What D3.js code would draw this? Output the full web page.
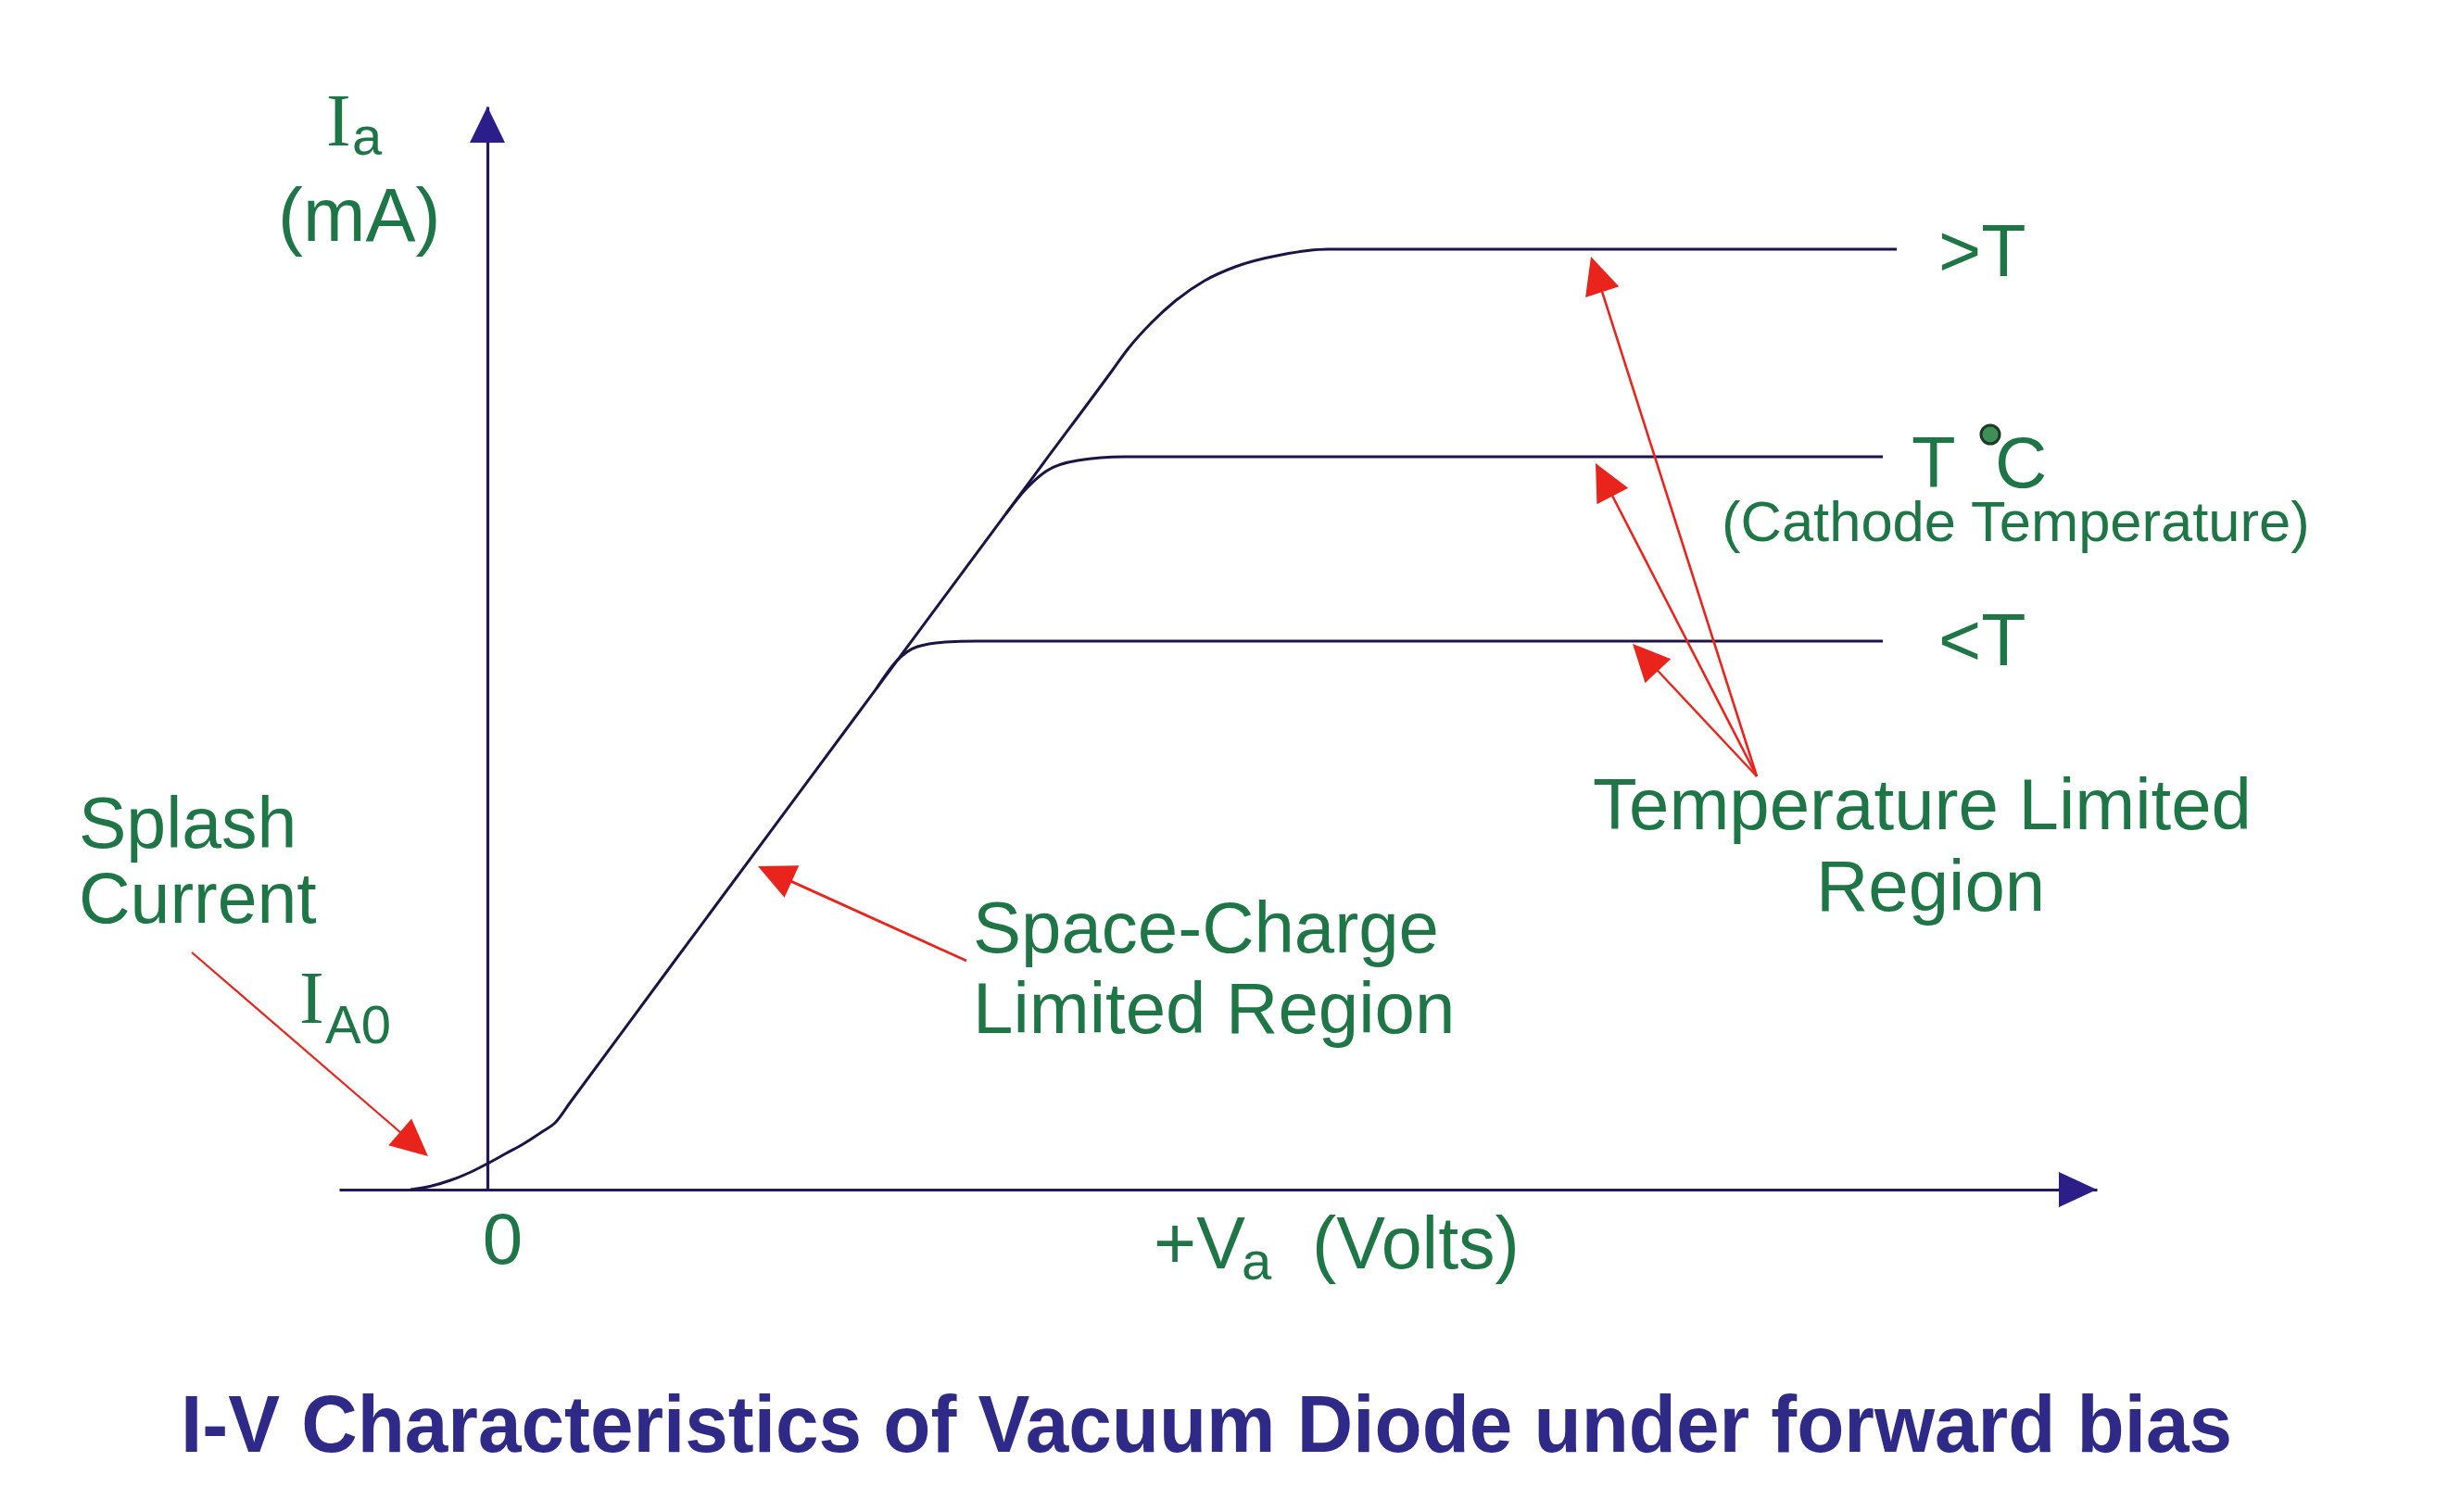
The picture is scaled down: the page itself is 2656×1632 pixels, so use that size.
<!DOCTYPE html>
<html><head><meta charset="utf-8">
<script src="https://cdn.jsdelivr.net/npm/d3@7/dist/d3.min.js"></script>
<style>html,body{margin:0;padding:0;background:#fff}svg{display:block}</style>
</head><body>
<script>
// ---------------- data (V in arbitrary volts, I in arbitrary mA) ----------------
const axisV = [-1.6, 17.37];          // extent of the Va axis
const axisI = [0, 11.69];             // extent of the Ia axis
const xTickValues = [0];
const xTickLabels = ["0"];
// space-charge limited curve continuing into the highest temperature plateau (>T)
const curveHigh = [[-0.83,0],[-0.6,0.04],[-0.4,0.10],[-0.2,0.18],[0,0.28],[0.2,0.39],[0.4,0.50],[0.6,0.63],[0.73,0.72],[0.9,0.95],[2.0,2.44],[4.0,5.14],[6.0,7.84],[6.75,8.85],[6.91,9.07],[7.17,9.36],[7.41,9.58],[7.74,9.81],[8.07,9.96],[8.57,10.09],[9.07,10.15],[15.21,10.15]];
// cathode temperature T
const curveMid = [[5.6,7.30],[5.82,7.57],[6.04,7.76],[6.37,7.87],[6.87,7.91],[15.06,7.91]];
// lower temperature <T
const curveLow = [[4.2,5.41],[4.42,5.71],[4.64,5.86],[4.94,5.91],[5.27,5.92],[15.06,5.92]];
const seriesLabels = [">T", "T", "<T"];
const titleText = "I-V Characteristics of Vacuum Diode under forward bias";

// ---------------- drawing ----------------
const W = 2656, H = 1632;
const svg = d3.select("body").append("svg").attr("width", W).attr("height", H)
  .style("font-family", "'Liberation Sans', Arial, sans-serif");
svg.append("rect").attr("width", W).attr("height", H).attr("fill", "#fff");

const x = d3.scaleLinear().domain(axisV).range([366, 2263]);
const y = d3.scaleLinear().domain(axisI).range([1284, 115]);

const GREEN = "#1e7646", AX = "#23195a", AXHEAD = "#2b1e88", CURVE = "#1c1445", RED = "#e8241d";

// x axis
const gx = svg.append("g").attr("transform", `translate(0,${y(0)})`)
  .call(d3.axisBottom(x).tickValues(xTickValues).tickFormat((d,i)=>xTickLabels[i]).tickSize(0).tickSizeOuter(0).tickPadding(25));
gx.select(".domain").attr("stroke", AX).attr("stroke-width", 3.2);
gx.selectAll("text").attr("font-size", 78).attr("fill", GREEN).attr("dx", 16)
  .attr("font-family", "'Liberation Sans', Arial, sans-serif");

// y axis
const gy = svg.append("g").attr("transform", `translate(${x(0)},0)`)
  .call(d3.axisLeft(y).tickValues([]).tickSizeOuter(0));
gy.select(".domain").attr("stroke", AX).attr("stroke-width", 3.2);

// axis arrowheads
const xe = x(axisV[1]), ye = y(axisI[1]);
svg.append("path").attr("fill", AXHEAD)
  .attr("d", `M${xe},${y(0)} L${xe-41},${y(0)-19} L${xe-41},${y(0)+19} Z`);
svg.append("path").attr("fill", AXHEAD)
  .attr("d", `M${x(0)},${ye} L${x(0)-19},${ye+39} L${x(0)+19},${ye+39} Z`);

// curves
const line = d3.line().x(d=>x(d[0])).y(d=>y(d[1])).curve(d3.curveMonotoneX);
[curveHigh, curveMid, curveLow].forEach(c=>{
  svg.append("path").attr("d", line(c)).attr("fill","none")
    .attr("stroke", CURVE).attr("stroke-width", 3).attr("stroke-linejoin","round");
});

// red annotation arrows
function arrow(x1,y1,x2,y2,w){
  const dx=x2-x1, dy=y2-y1, L=Math.hypot(dx,dy), ux=dx/L, uy=dy/L;
  const hl=40, hw=19;
  const bx=x2-ux*hl, by=y2-uy*hl;
  svg.append("line").attr("x1",x1).attr("y1",y1).attr("x2",bx+ux*4).attr("y2",by+uy*4)
    .attr("stroke",RED).attr("stroke-width",w||2.6);
  svg.append("path").attr("fill",RED)
    .attr("d",`M${x2},${y2} L${bx-uy*hw},${by+ux*hw} L${bx+uy*hw},${by-ux*hw} Z`);
}
arrow(207,1028,462,1248,2.2);
arrow(1043,1037,818,935,2.8);
arrow(1896,838,1717,277,2.6);
arrow(1896,838,1722,500,2.6);
arrow(1896,838,1762,695,2.4);

// text helpers
function txt(s,xp,yp,size,opts){
  opts=opts||{};
  const t=svg.append("text").attr("x",xp).attr("y",yp).attr("font-size",size)
    .attr("fill",opts.fill||GREEN).text(s);
  if(opts.anchor) t.attr("text-anchor",opts.anchor);
  if(opts.family) t.attr("font-family",opts.family);
  if(opts.weight) t.attr("font-weight",opts.weight);
  return t;
}
const SERIF="'Liberation Serif','Times New Roman',serif";

// Ia (mA)
txt("I",352,157,80,{family:SERIF});
txt("a",380,167,58);
txt("(mA)",300,260,81);

// Splash current
txt("Splash",85,915,77);
txt("Current",85,996,77);
txt("I",323,1104,80,{family:SERIF});
txt("A0",351,1126,58);

// x axis label
txt("+V",1245,1369,79);
txt("a",1340,1381,58);
txt("(Volts)",1416,1369,79);

// space charge
txt("Space-Charge",1050,1028,78);
txt("Limited Region",1050,1115,78);

// temperature limited
txt("Temperature Limited",1719,895,78);
txt("Region",1960,983,78);

// series labels
txt(seriesLabels[0],2092,298,79);
txt(seriesLabels[1],2063,526,78);
svg.append("circle").attr("cx",2148).attr("cy",469).attr("r",10)
  .attr("fill","#3f8f58").attr("stroke","#1d3a25").attr("stroke-width",3);
txt("C",2153,526,78);
txt("(Cathode Temperature)",1858,584,61.5);
txt(seriesLabels[2],2092,718,79);

// title
txt(titleText,195,1567,88,{fill:"#2f2a88",weight:"bold"})
  .attr("textLength",2214).attr("lengthAdjust","spacingAndGlyphs");
</script>
</body></html>
